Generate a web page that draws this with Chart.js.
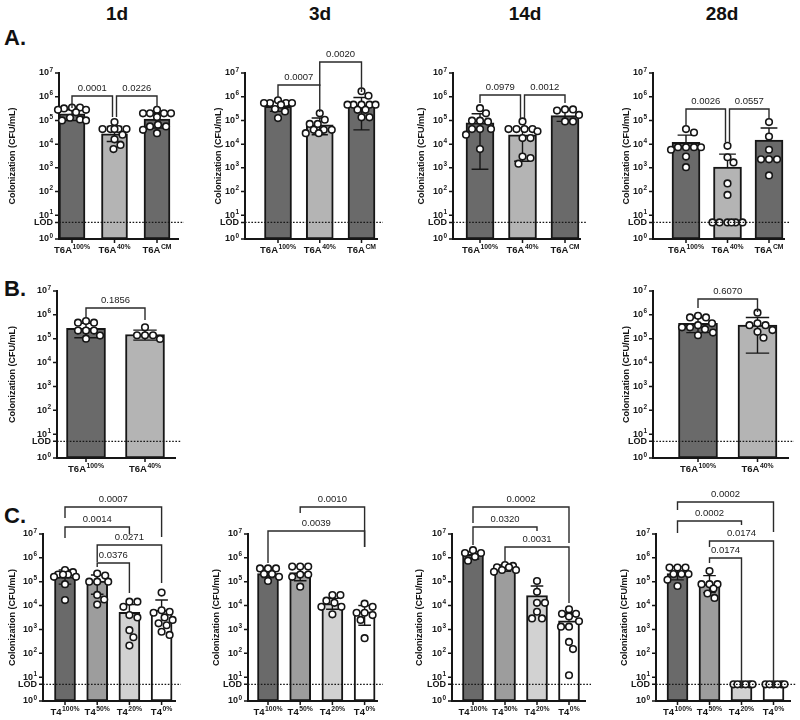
<!DOCTYPE html>
<html lang="en">
<head>
<meta charset="UTF-8">
<title>Colonization over time</title>
<script src="https://cdn.jsdelivr.net/npm/chart.js"></script>
<style>
  body { margin: 0; background: #fff; width: 800px; height: 720px; position: relative; overflow: hidden; }
  canvas { position: absolute; }
  .hd { position: absolute; font-family: "Liberation Sans Narrow", "Liberation Sans", Arial, sans-serif; font-weight: bold; color: #111; transform: translate(-50%, -50%); white-space: nowrap; }
</style>
</head>
<body>
<div class="hd" style="left:117px;top:14px;font-size:19px">1d</div>
<div class="hd" style="left:320px;top:14px;font-size:19px">3d</div>
<div class="hd" style="left:525px;top:14px;font-size:19px">14d</div>
<div class="hd" style="left:722px;top:14px;font-size:19px">28d</div>
<div class="hd" style="left:15px;top:38px;font-size:22px">A.</div>
<div class="hd" style="left:15px;top:289px;font-size:22px">B.</div>
<div class="hd" style="left:15px;top:516px;font-size:22px">C.</div>

<script>
// categories
const catsA = [['T6A', '100%'], ['T6A', '40%'], ['T6A', 'CM']];
const catsB = [['T6A', '100%'], ['T6A', '40%']];
const catsC = [['T4', '100%'], ['T4', '50%'], ['T4', '20%'], ['T4', '0%']];
const yExp = [0, 1, 2, 3, 4, 5, 6, 7];
const LOD = 5;

// A - 1d
const a1Mean = [1.9e5, 2.7e4, 1.15e5];
const a1Hi = [2.8e5, 5.6e4, 2.0e5];
const a1Lo = [1.0e5, 1.3e4, 4.8e4];
const a1Pts = [
  [3.5e5, 3.2e5, 2.8e5, 2.8e5, 3.5e5, 2.2e5, 1.3e5, 1.1e5, 1.0e5, 1.0e5],
  [8.5e4, 4.3e4, 4.3e4, 4.3e4, 4.3e4, 4.3e4, 2.5e4, 1.6e4, 9.3e3, 6.2e3],
  [2.8e5, 2.0e5, 2.0e5, 2.0e5, 2.0e5, 1.4e5, 6.6e4, 5.6e4, 5.6e4, 4.0e4, 2.9e4]
];
const a1Sig = [[0, 1, '0.0001'], [1, 2, '0.0226']];

// A - 3d
const a2Mean = [3.9e5, 6.6e4, 4.6e5];
const a2Hi = [6.3e5, 1.26e5, 9.3e5];
const a2Lo = [2.4e5, 2.5e4, 4.0e4];
const a2Pts = [
  [7.1e5, 5.4e5, 5.4e5, 5.4e5, 5.4e5, 4.6e5, 3.0e5, 2.4e5, 1.26e5],
  [2.0e5, 1.07e5, 7.1e4, 7.1e4, 4.0e4, 4.0e4, 4.0e4, 2.9e4, 2.9e4],
  [1.7e6, 1.1e6, 4.6e5, 4.6e5, 4.6e5, 4.6e5, 4.6e5, 2.8e5, 2.8e5, 1.35e5, 1.35e5]
];
const a2Sig = [[0, 1, '0.0007'], [1, 2, '0.0020']];

// A - 14d
const a3Mean = [8.0e4, 2.5e4, 1.6e5];
const a3Hi = [1.9e5, 4.8e4, 2.8e5];
const a3Lo = [8.7e2, 1.9e3, 9.1e4];
const a3Pts = [
  [3.3e5, 2.0e5, 9.8e4, 9.8e4, 8.9e4, 4.3e4, 4.3e4, 4.3e4, 2.5e4, 6.2e3],
  [9.1e4, 4.3e4, 4.3e4, 4.3e4, 4.3e4, 3.5e4, 1.8e4, 1.8e4, 3.0e3, 2.6e3, 1.5e3],
  [2.9e5, 2.9e5, 2.6e5, 1.7e5, 9.1e4, 9.1e4]
];
const a3Sig = [[0, 1, '0.0979'], [1, 2, '0.0012']];

// A - 28d
const a4Mean = [1.2e4, 1.07e3, 1.5e4];
const a4Hi = [2.4e4, 3.8e3, 4.8e4];
const a4Lo = [null, null, null];
const a4Pts = [
  [4.3e4, 3.1e4, 7.4e3, 7.4e3, 7.4e3, 7.4e3, 5.8e3, 3.0e3, 1.07e3],
  [8.5e3, 2.8e3, 1.7e3, 2.2e2, 72, 5, 5, 5, 5, 5, 5],
  [8.5e4, 2.1e4, 5.8e3, 2.3e3, 2.3e3, 2.3e3, 4.8e2]
];
const a4Sig = [[0, 1, '0.0026'], [1, 2, '0.0557']];

// B - 1d
const b1Mean = [2.7e5, 1.5e5];
const b1Hi = [4.4e5, 2.3e5];
const b1Lo = [1.1e5, 8.7e4];
const b1Pts = [
  [5.5e5, 4.7e5, 4.7e5, 2.2e5, 2.2e5, 2.2e5, 1.35e5, 1.0e5],
  [3.0e5, 1.4e5, 1.4e5, 1.4e5, 9.8e4]
];
const b1Sig = [[0, 1, '0.1856']];

// B - 28d
const b2Mean = [4.4e5, 3.7e5];
const b2Hi = [7.6e5, 7.8e5];
const b2Lo = [1.8e5, 2.5e4];
const b2Pts = [
  [9.1e5, 7.8e5, 7.8e5, 4.4e5, 3.7e5, 3.0e5, 3.0e5, 2.5e5, 1.8e5, 1.4e5],
  [1.23e6, 4.4e5, 3.7e5, 3.7e5, 2.3e5, 1.95e5, 1.1e5]
];
const b2Sig = [[0, 1, '0.6070']];

// C - 1d
const c1Mean = [1.6e5, 1.07e5, 5.2e3, 6.5e3];
const c1Hi = [3.1e5, 1.9e5, 1.1e4, 1.7e4];
const c1Lo = [7.9e4, 3.0e4, null, null];
const c1Pts = [
  [3.1e5, 2.5e5, 2.0e5, 2.0e5, 2.0e5, 1.6e5, 1.6e5, 7.9e4, 1.7e4],
  [2.2e5, 1.8e5, 1.0e5, 1.0e5, 1.0e5, 2.8e4, 1.8e4, 1.1e4],
  [1.45e4, 1.45e4, 8.9e3, 4.0e3, 3.2e3, 9.3e2, 4.7e2, 2.1e2],
  [3.5e4, 6.3e3, 5.5e3, 5.0e3, 3.2e3, 2.5e3, 1.8e3, 1.5e3, 8.0e2, 5.9e2]
];
const c1Sig = [[0, 3, '0.0007'], [0, 2, '0.0014'], [1, 3, '0.0271'], [1, 2, '0.0376']];

// C - 3d
const c2Mean = [2.2e5, 2.4e5, 1.2e4, 5.5e3];
const c2Hi = [3.6e5, 4.3e5, 2.0e4, 1.0e4];
const c2Lo = [1.5e5, 1.1e5, 7.0e3, 1.5e3];
const c2Pts = [
  [3.6e5, 3.6e5, 3.6e5, 2.1e5, 2.1e5, 1.6e5, 1.07e5],
  [4.3e5, 4.3e5, 4.3e5, 2.0e5, 2.0e5, 1.6e5, 6.2e4],
  [2.75e4, 2.75e4, 1.6e4, 1.3e4, 8.9e3, 8.9e3, 4.3e3],
  [1.2e4, 8.9e3, 5.0e3, 5.0e3, 4.0e3, 2.5e3, 4.3e2]
];
const c2Sig = [[1, 3, '0.0010'], [0, 3, '0.0039']];

// C - 14d
const c3Mean = [1.4e6, 3.6e5, 2.6e4, 2.3e3];
const c3Hi = [1.8e6, 5.0e5, 6.6e4, 5.0e3];
const c3Lo = [9.0e5, 2.7e5, null, null];
const c3Pts = [
  [2.1e6, 1.6e6, 1.6e6, 1.1e6, 7.6e5],
  [5.0e5, 4.6e5, 4.0e5, 4.0e5, 3.1e5, 3.1e5, 2.6e5],
  [1.07e5, 3.8e4, 1.3e4, 1.3e4, 5.5e3, 2.9e3, 2.9e3],
  [7.0e3, 4.5e3, 4.5e3, 3.5e3, 2.2e3, 1.3e3, 1.3e3, 3.0e2, 1.5e2, 12]
];
const c3Sig = [[0, 3, '0.0002'], [0, 2, '0.0320'], [1, 3, '0.0031']];

// C - 28d
const c4Mean = [2.2e5, 8.0e4, 5, 5];
const c4Hi = [4.3e5, 1.8e5, null, null];
const c4Lo = [1.2e5, 3.5e4, null, null];
const c4Pts = [
  [3.9e5, 3.9e5, 3.9e5, 2.1e5, 2.1e5, 2.1e5, 1.2e5, 6.6e4],
  [2.8e5, 7.9e4, 7.9e4, 7.9e4, 5.2e4, 3.2e4, 2.1e4],
  [5, 5, 5, 5, 5, 5],
  [5, 5, 5, 5, 5, 5]
];
const c4Sig = [[0, 3, '0.0002'], [0, 2, '0.0002'], [1, 3, '0.0174'], [1, 2, '0.0174']];

// bar fills
const colsA = ['#6a6a6a', '#b4b4b4', '#6a6a6a'];
const colsB = ['#6a6a6a', '#b4b4b4'];
const colsC = ['#6a6a6a', '#9d9d9d', '#d2d2d2', '#ffffff'];

// layout: box = canvas [left, top, w, h]; ax = [axis x, axis end x, y of 10^7, y of 10^0]
// br = bracket [line y, leg a end, leg b end, shift a, shift b] (page px)
const panels = [
  { cats: catsA, cols: colsA, mean: a1Mean, hi: a1Hi, lo: a1Lo, pts: a1Pts, sig: a1Sig,
    box: [0, 40, 196, 225], ax: [59, 178, 73, 239], c0: 72, step: 42.5, bw: 26, tx: 13,
    br: [[96, 108, 117, 0, -2], [96, 117, 107, 2, 0]] },
  { cats: catsA, cols: colsA, mean: a2Mean, hi: a2Hi, lo: a2Lo, pts: a2Pts, sig: a2Sig,
    box: [196, 40, 200, 225], ax: [245, 377, 73, 239], c0: 278, step: 41.75, bw: 27, tx: 219,
    br: [[85, 97, 112, 0, 0], [62, 86, 92, 0, 0]] },
  { cats: catsA, cols: colsA, mean: a3Mean, hi: a3Hi, lo: a3Lo, pts: a3Pts, sig: a3Sig,
    box: [398, 40, 200, 225], ax: [453, 580, 73, 239], c0: 480, step: 42.5, bw: 28, tx: 422,
    br: [[95, 103, 118, 0, -2], [95, 118, 103, 2, 0]] },
  { cats: catsA, cols: colsA, mean: a4Mean, hi: a4Hi, lo: a4Lo, pts: a4Pts, sig: a4Sig,
    box: [598, 40, 202, 225], ax: [653, 784, 73, 239], c0: 686, step: 41.5, bw: 28, tx: 627,
    br: [[109, 125, 142, 0, -2], [109, 142, 118, 2, 0]] },
  { cats: catsB, cols: colsB, mean: b1Mean, hi: b1Hi, lo: b1Lo, pts: b1Pts, sig: b1Sig,
    box: [0, 272, 200, 205], ax: [57, 175, 291, 458], c0: 86, step: 59, bw: 39, tx: 13,
    br: [[308, 317, 320]] },
  { cats: catsB, cols: colsB, mean: b2Mean, hi: b2Hi, lo: b2Lo, pts: b2Pts, sig: b2Sig,
    box: [598, 272, 202, 205], ax: [653, 788, 291, 458], c0: 698, step: 59.5, bw: 39, tx: 627,
    br: [[299, 308, 312]] },
  { cats: catsC, cols: colsC, mean: c1Mean, hi: c1Hi, lo: c1Lo, pts: c1Pts, sig: c1Sig,
    box: [0, 482, 196, 238], ax: [43, 175, 534, 701], c0: 65, step: 32.2, bw: 21, tx: 13,
    br: [[507, 518, 537], [527, 538, 534], [545, 562, 583], [563, 567, 593]] },
  { cats: catsC, cols: colsC, mean: c2Mean, hi: c2Hi, lo: c2Lo, pts: c2Pts, sig: c2Sig,
    box: [196, 482, 200, 238], ax: [248, 377, 534, 701], c0: 268, step: 32.2, bw: 21, tx: 217,
    br: [[507, 513, 547], [531, 563, 547]] },
  { cats: catsC, cols: colsC, mean: c3Mean, hi: c3Hi, lo: c3Lo, pts: c3Pts, sig: c3Sig,
    box: [398, 482, 200, 238], ax: [452, 585, 534, 701], c0: 473, step: 32, bw: 21, tx: 420,
    br: [[507, 523, 543], [527, 545, 531], [547, 562, 603]] },
  { cats: catsC, cols: colsC, mean: c4Mean, hi: c4Hi, lo: c4Lo, pts: c4Pts, sig: c4Sig,
    box: [598, 482, 202, 238], ax: [656, 790, 534, 701], c0: 677.5, step: 32, bw: 21, tx: 625,
    br: [[502, 510, 532], [521, 533, 525], [541, 547, 688], [558, 563, 688]] }
];

const FAM = '"Liberation Sans", Arial, sans-serif';
const INK = '#161616';

// simple beeswarm: spread equal values sideways, stay inside maxOff px
function swarm(vals, decPx, maxOff) {
  const D = 7.8, placed = [];
  return vals.slice().sort((a, b) => b - a).map(v => {
    const y = Math.log10(v) * decPx;
    let best = 0, bestD = -1;
    for (let k = 0; k <= 2 * Math.ceil(maxOff); k++) {
      const off = (k % 2 ? 1 : -1) * Math.ceil(k / 2);
      if (Math.abs(off) > maxOff) continue;
      let md = Infinity;
      placed.forEach(q => { md = Math.min(md, Math.hypot(q.x - off, q.y - y)); });
      if (md >= D) { best = off; break; }
      if (md > bestD) { bestD = md; best = off; }
    }
    placed.push({ x: best, y });
    return { dx: best, v };
  });
}

function supText(ctx, base, sup, x, y, align, size) {
  const fb = 'bold ' + size + 'px ' + FAM, fs = 'bold ' + (size * 0.72) + 'px ' + FAM;
  ctx.font = fb; const w1 = ctx.measureText(base).width;
  ctx.font = fs; const w2 = ctx.measureText(sup).width;
  const w = w1 + w2 + 0.5;
  const sx = align === 'right' ? x - w : align === 'center' ? x - w / 2 : x;
  ctx.textAlign = 'left'; ctx.textBaseline = 'middle';
  ctx.font = fb; ctx.fillText(base, sx, y);
  ctx.font = fs; ctx.fillText(sup, sx + w1 + 0.5, y - 3.2);
}

const deco = {
  id: 'deco',
  afterDatasetDraw(chart, args) {
    if (args.meta.type !== 'bar') return;
    const p = chart.canvas._p, ctx = chart.ctx, xs = chart.scales.x, ys = chart.scales.y;
    const cap = p.bw * 0.3;
    ctx.save();
    ctx.strokeStyle = INK; ctx.lineWidth = 1.4;
    p.mean.forEach((m, i) => {
      if (p.hi[i] == null && p.lo[i] == null) return;
      const x = xs.getPixelForValue(i);
      const yTop = ys.getPixelForValue(p.hi[i] != null ? p.hi[i] : m);
      const yBot = ys.getPixelForValue(p.lo[i] != null ? p.lo[i] : m);
      ctx.beginPath();
      ctx.moveTo(x, yBot); ctx.lineTo(x, yTop);
      if (p.hi[i] != null) { ctx.moveTo(x - cap, yTop); ctx.lineTo(x + cap, yTop); }
      if (p.lo[i] != null) { ctx.moveTo(x - cap, yBot); ctx.lineTo(x + cap, yBot); }
      ctx.stroke();
    });
    ctx.restore();
  },
  afterDraw(chart) {
    const p = chart.canvas._p, ctx = chart.ctx, xs = chart.scales.x, ys = chart.scales.y;
    const { left, right, top, bottom } = chart.chartArea;
    const T = p.box[1];
    ctx.save();
    // LOD dotted line
    const yl = ys.getPixelForValue(LOD);
    ctx.strokeStyle = INK; ctx.lineWidth = 1.2; ctx.setLineDash([1.6, 1.6]);
    ctx.beginPath(); ctx.moveTo(left, yl); ctx.lineTo(right + 6, yl); ctx.stroke();
    ctx.setLineDash([]);
    // tick marks
    ctx.lineWidth = 1.5;
    ctx.beginPath();
    yExp.forEach(e => { const y = ys.getPixelForValue(Math.pow(10, e)); ctx.moveTo(left - 4, y); ctx.lineTo(left, y); });
    ctx.moveTo(left - 4, yl); ctx.lineTo(left, yl);
    p.cats.forEach((c, i) => { const x = xs.getPixelForValue(i); ctx.moveTo(x, bottom); ctx.lineTo(x, bottom + 4); });
    ctx.stroke();
    // tick labels
    ctx.fillStyle = INK;
    yExp.forEach(e => supText(ctx, '10', String(e), left - 6, ys.getPixelForValue(Math.pow(10, e)), 'right', 9));
    ctx.font = 'bold 9px ' + FAM; ctx.textAlign = 'right'; ctx.textBaseline = 'middle';
    ctx.fillText('LOD', left - 6, yl + 0.5);
    p.cats.forEach((c, i) => supText(ctx, c[0], c[1], xs.getPixelForValue(i), bottom + 11, 'center', 9.5));
    // axis title
    ctx.save();
    ctx.translate(p.tx - p.box[0], (top + bottom) / 2);
    ctx.rotate(-Math.PI / 2);
    ctx.font = 'bold 9px ' + FAM; ctx.textAlign = 'center'; ctx.textBaseline = 'middle';
    ctx.fillText('Colonization (CFU/mL)', 0, 0);
    ctx.restore();
    // significance brackets
    ctx.strokeStyle = '#2a2a2a'; ctx.lineWidth = 1.4;
    p.sig.forEach((s, k) => {
      const b = p.br[k];
      const xa = xs.getPixelForValue(s[0]) + (b[3] || 0);
      const xb = xs.getPixelForValue(s[1]) + (b[4] || 0);
      ctx.beginPath();
      ctx.moveTo(xa, b[1] - T); ctx.lineTo(xa, b[0] - T); ctx.lineTo(xb, b[0] - T); ctx.lineTo(xb, b[2] - T);
      ctx.stroke();
      ctx.font = '9.5px ' + FAM; ctx.textAlign = 'center'; ctx.textBaseline = 'alphabetic';
      ctx.fillStyle = '#222';
      ctx.fillText(s[2], (xa + xb) / 2, b[0] - T - 5);
    });
    ctx.restore();
  }
};

panels.forEach(p => {
  const [L, T, W, H] = p.box;
  const [x0, x1, yt, yb] = p.ax;
  const cv = document.createElement('canvas');
  cv.width = W; cv.height = H;
  cv.style.left = L + 'px'; cv.style.top = T + 'px';
  cv._p = p;
  document.body.appendChild(cv);

  const decPx = (yb - yt) / 7;
  const pts = [];
  p.pts.forEach((g, i) => {
    swarm(g, decPx, p.bw / 2 + 1).forEach(s => pts.push({ x: i + s.dx / p.step, y: s.v }));
  });

  new Chart(cv, {
    type: 'bar',
    data: {
      datasets: [
        {
          type: 'bar',
          data: p.mean.map((m, i) => ({ x: i, y: m })),
          backgroundColor: p.cols,
          borderColor: INK,
          borderWidth: 2,
          borderSkipped: false,
          barThickness: p.bw,
          order: 2
        },
        {
          type: 'scatter',
          data: pts,
          pointRadius: 3.3,
          pointBackgroundColor: '#ffffff',
          pointBorderColor: INK,
          pointBorderWidth: 1.6,
          clip: false,
          order: 1
        }
      ]
    },
    options: {
      responsive: false,
      animation: false,
      events: [],
      layout: { padding: { left: x0 - L, right: L + W - x1, top: yt - T, bottom: T + H - yb } },
      plugins: { legend: { display: false }, tooltip: { enabled: false } },
      scales: {
        x: {
          type: 'linear', min: (x0 - p.c0) / p.step, max: (x1 - p.c0) / p.step, offset: false,
          grid: { display: false, drawTicks: false }, ticks: { display: false },
          border: { color: INK, width: 2 },
          afterFit: s => { s.height = 0; }
        },
        y: {
          type: 'logarithmic', min: 1, max: 1e7,
          grid: { display: false, drawTicks: false }, ticks: { display: false },
          border: { color: INK, width: 2 },
          afterFit: s => { s.width = 0; }
        }
      }
    },
    plugins: [deco]
  });
});
</script>
</body>
</html>
